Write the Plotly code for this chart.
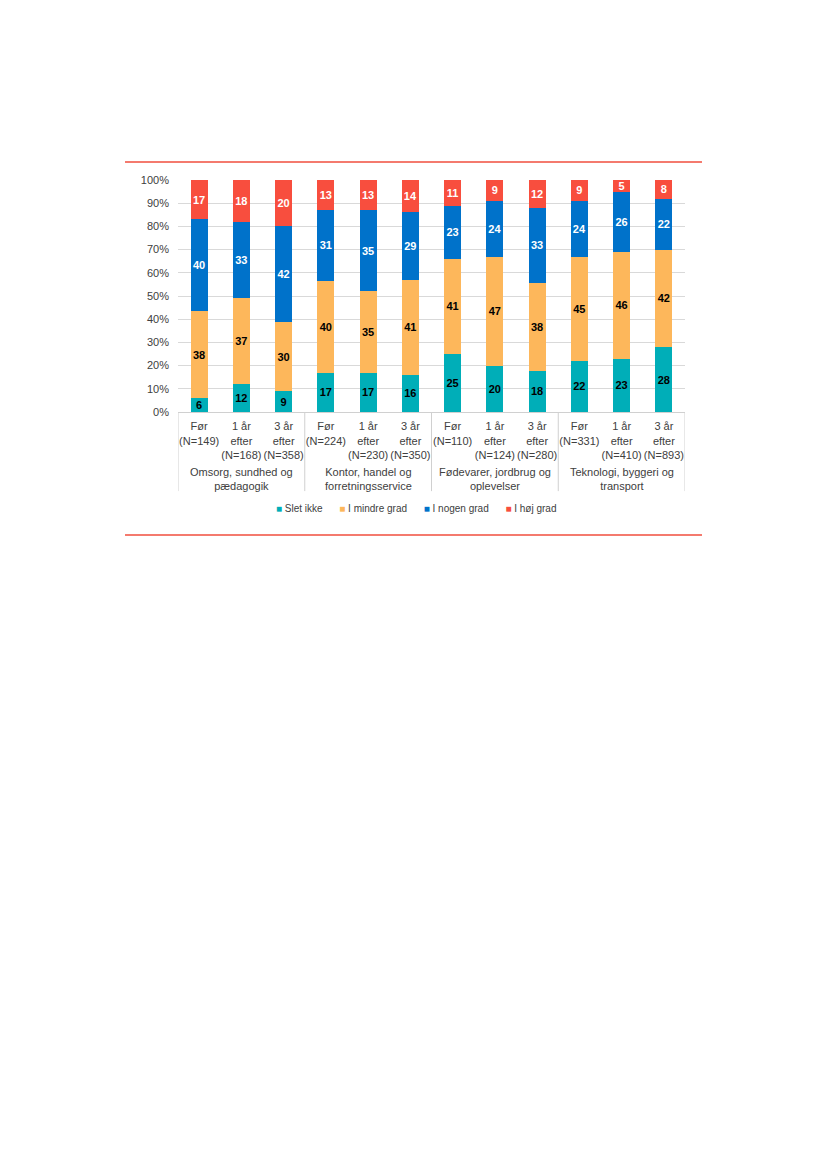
import plotly.graph_objects as go

groups = ["Omsorg, sundhed og<br>pædagogik", "Kontor, handel og<br>forretningsservice",
          "Fødevarer, jordbrug og<br>oplevelser", "Teknologi, byggeri og<br>transport"]
periods = ["Før", "1 år<br>efter", "3 år<br>efter"]
n_values = [149, 168, 358, 224, 230, 350, 110, 124, 280, 331, 410, 893]

series_names = ["Slet ikke", "I mindre grad", "I nogen grad", "I høj grad"]
slet_ikke = [6, 12, 9, 17, 17, 16, 25, 20, 18, 22, 23, 28]
i_mindre_grad = [38, 37, 30, 40, 35, 41, 41, 47, 38, 45, 46, 42]
i_nogen_grad = [40, 33, 42, 31, 35, 29, 23, 24, 33, 24, 26, 22]
i_hoej_grad = [17, 18, 20, 13, 13, 14, 11, 9, 12, 9, 5, 8]

colors = ["#00AEB8", "#FDB75B", "#0072CA", "#F84E3E"]
text_colors = ["#000000", "#000000", "#FFFFFF", "#FFFFFF"]

x_labels = []
i = 0
for g in groups:
    for p in periods:
        x_labels.append(f"{p}<br>(N={n_values[i]})")
        i += 1

FONT = "Liberation Sans, Arial, sans-serif"
GRID = "#D0D0D0"

fig = go.Figure()
for name, vals, c, tc in zip(series_names, [slet_ikke, i_mindre_grad, i_nogen_grad, i_hoej_grad], colors, text_colors):
    fig.add_trace(go.Bar(
        x=x_labels, y=vals, name=name,
        marker=dict(color=c, line=dict(width=0)),
        text=[str(v) for v in vals], textposition="inside", insidetextanchor="middle",
        textangle=0, constraintext="none", cliponaxis=False,
        textfont=dict(family=FONT, size=11, color=tc, weight="bold"),
        hoverinfo="skip", showlegend=False,
    ))

# group labels centred under the middle bar of each group
n_per = len(periods)
for k, g in enumerate(groups):
    fig.add_annotation(xref="x", yref="paper", x=k * n_per + (n_per - 1) / 2, y=-0.289,
                       xanchor="center", yanchor="middle", showarrow=False, text=g,
                       font=dict(family=FONT, size=11, color="#404040"))

# group dividers below the axis
for k in range(len(groups) + 1):
    fig.add_shape(type="line", xref="x", yref="paper", x0=k * n_per - 0.5, x1=k * n_per - 0.5,
                  y0=0, y1=-0.341, line=dict(color=GRID, width=1))

# legend built as text from the series names and colours
sp = "&nbsp;" * 6
legend_text = sp.join(
    f'<span style="color:{c}">■</span>&nbsp;{n}' for n, c in zip(series_names, colors)
)
fig.add_annotation(xref="paper", yref="paper", x=0.47, y=-0.418, xanchor="center",
                   yanchor="middle", showarrow=False, text=legend_text,
                   font=dict(family=FONT, size=10, color="#404040"))

fig.update_layout(
    barmode="stack", barnorm="percent", bargap=0.6,
    width=827, height=1169,
    paper_bgcolor="white", plot_bgcolor="white",
    margin=dict(l=170, r=150, t=172, b=765),
    font=dict(family=FONT, size=11, color="#404040"),
    showlegend=False,
    xaxis=dict(type="category", showline=True, linecolor=GRID, linewidth=1, tickangle=0,
               range=[-0.5, len(x_labels) - 0.5], ticklabelstandoff=4, ticks="",
               tickfont=dict(size=11, color="#404040"), showgrid=False),
    yaxis=dict(range=[0, 100], dtick=10, ticksuffix="%", showgrid=True, gridcolor="#D9D9D9",
               gridwidth=1, zeroline=False, showline=False, ticklabelstandoff=8,
               tickfont=dict(size=11, color="#404040")),
)

for yp in [1.078, -0.530]:
    fig.add_shape(type="line", xref="paper", yref="paper", x0=-0.1045, x1=1.0335, y0=yp, y1=yp,
                  line=dict(color="#F04E3E", width=1.5))

fig.write_html("out.html")
